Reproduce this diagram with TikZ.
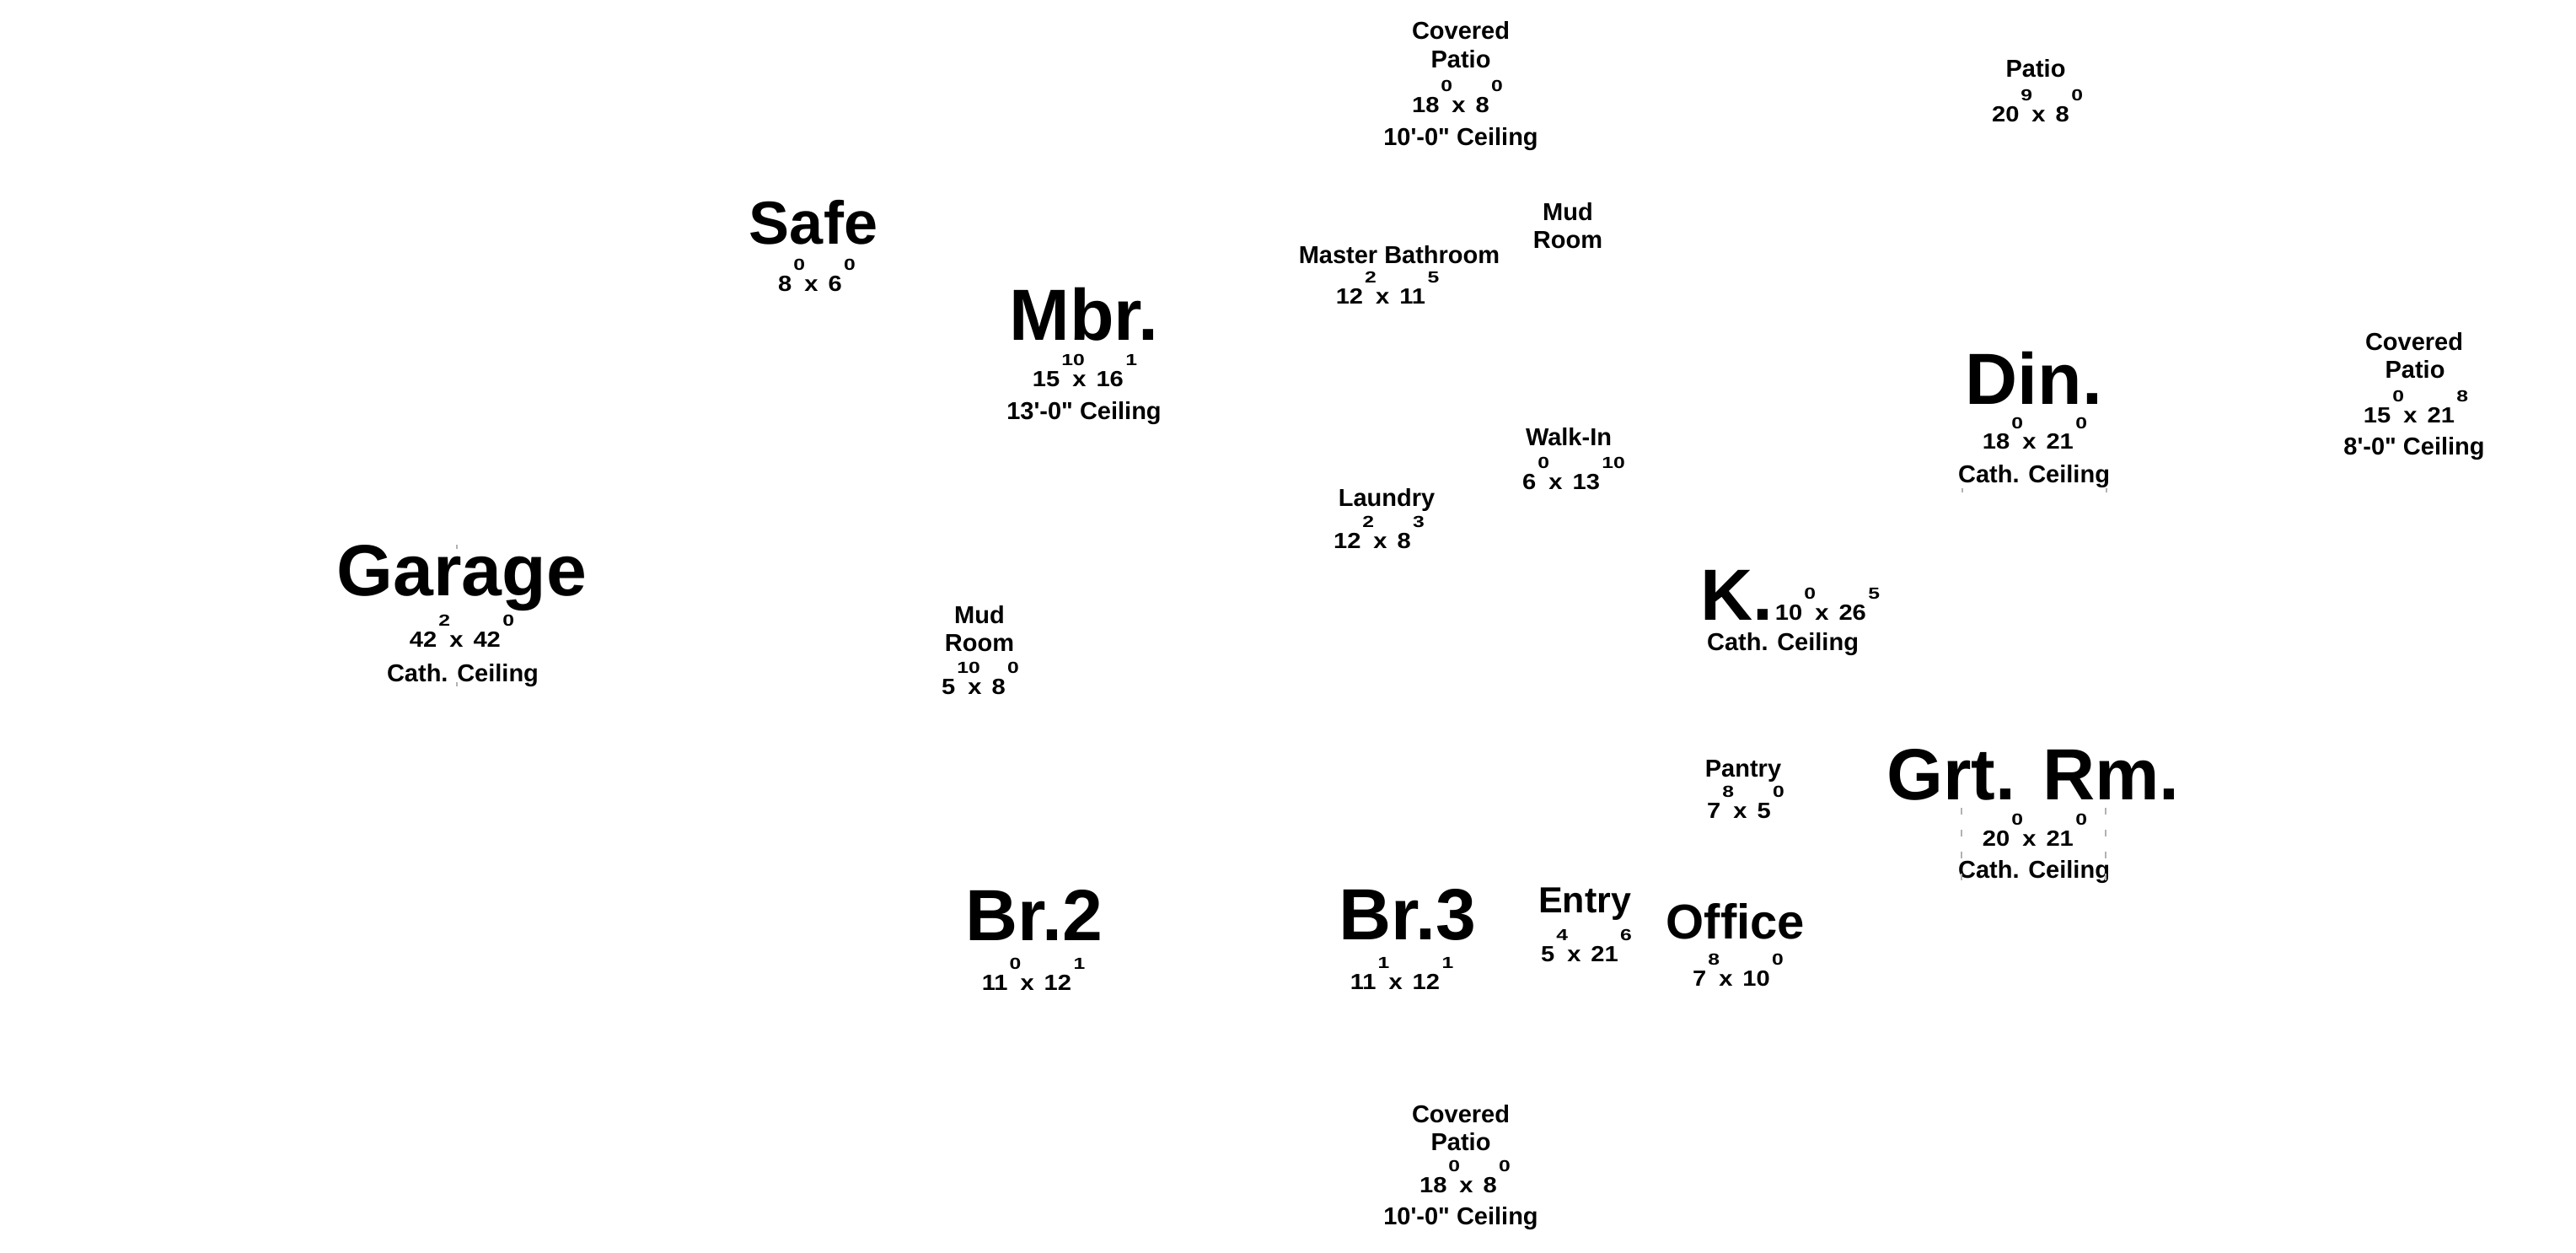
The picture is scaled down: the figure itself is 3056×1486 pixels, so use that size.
\documentclass[tikz,border=0pt]{standalone}
\usepackage{fontspec}
\setmainfont{Liberation Sans}
\newfontfamily\dimfont{Liberation Sans Bold}[FakeStretch=1.12]
\newfontfamily\supfont{Liberation Sans Bold}[FakeStretch=1.3]
\newcommand\upx[1]{\raisebox{12.5pt}{\supfont\fontsize{9.5}{9.5}\selectfont #1}}
\newcommand\dm[4]{#1\kern1pt\rlap{\upx{#2}}\kern6.5pt x\kern6pt #3\kern1.2pt\upx{#4}}
\newcommand\ceil[1]{#1\textquotesingle-0\textquotedbl{} Ceiling}
\begin{document}
\begin{tikzpicture}[x=0.5pt,y=-0.5pt,
  lbl/.style={inner sep=0pt, anchor=base, font=\bfseries\fontsize{14.5}{14.5}\selectfont},
  big/.style={inner sep=0pt, anchor=base, font=\bfseries\fontsize{43}{43}\selectfont},
  dim/.style={inner sep=0pt, anchor=base, font=\dimfont\fontsize{13}{13}\selectfont},
  guide/.style={draw=gray!60, line width=0.6pt, dash pattern=on 4pt off 9pt},
  tick/.style={draw=gray!60, line width=0.6pt}]
\fill[white] (0,0) rectangle (3056,1486);
\useasboundingbox (0,0) rectangle (3056,1486);
% top covered patio
\node[lbl] (cpTa) at (1733,47) {Covered};
\node[lbl] (cpTb) at (1733,81) {Patio};
\node[dim] (cpTc) at (1729,134) {\dm{18}{0}{8}{0}};
\node[lbl] (cpTd) at (1733,173) {\ceil{10}};
% patio top right
\node[lbl] (patA) at (2415,92) {Patio};
\node[dim] (patB) at (2417,145) {\dm{20}{9}{8}{0}};
% safe
\node[inner sep=0pt, anchor=base, font=\bfseries\fontsize{36}{36}\selectfont] (safeA) at (965,290) {Safe};
\node[dim] (safeB) at (969,346) {\dm{8}{0}{6}{0}};
% master bedroom
\node[big] (mbrA) at (1286,404) {Mbr.};
\node[dim] (mbrB) at (1287,459) {\dm{15}{10}{16}{1}};
\node[lbl] (mbrC) at (1286,498) {\ceil{13}};
% master bathroom
\node[lbl] (mbA) at (1660,313) {Master Bathroom};
\node[dim] (mbB) at (1646,361) {\dm{12}{2}{11}{5}};
% mud room right
\node[lbl] (mudRa) at (1860,262) {Mud};
\node[lbl] (mudRb) at (1860,295) {Room};
% walk-in
\node[lbl] (wiA) at (1861,529) {Walk-In};
\node[dim] (wiB) at (1867,581) {\dm{6}{0}{13}{10}};
% laundry
\node[lbl] (lauA) at (1645,600) {Laundry};
\node[dim] (lauB) at (1636,650) {\dm{12}{2}{8}{3}};
% dining
\node[big] (dinA) at (2413,480) {Din.};
\node[dim] (dinB) at (2414,533) {\dm{18}{0}{21}{0}};
\node[lbl] (dinC) at (2413,573) {Cath. Ceiling};
% covered patio right
\node[lbl] (cpRa) at (2864,416) {Covered};
\node[lbl] (cpRb) at (2865,449) {Patio};
\node[dim] (cpRc) at (2866,502) {\dm{15}{0}{21}{8}};
\node[lbl] (cpRd) at (2864,539) {\ceil{8}};
% kitchen
\node[big] (kA) at (2060,735) {K.};
\node[dim] (kB) at (2168,735) {\dm{10}{0}{26}{5}};
\node[lbl] (kC) at (2115,771) {Cath. Ceiling};
% garage
\node[big] (garA) at (548,706) {Garage};
\node[dim] (garB) at (548,767) {\dm{42}{2}{42}{0}};
\node[lbl] (garC) at (549,808) {Cath. Ceiling};
% mud room left
\node[lbl] (mudLa) at (1162,739) {Mud};
\node[lbl] (mudLb) at (1162,772) {Room};
\node[dim] (mudLc) at (1163,823) {\dm{5}{10}{8}{0}};
% pantry
\node[lbl] (panA) at (2068,921) {Pantry};
\node[dim] (panB) at (2071,970) {\dm{7}{8}{5}{0}};
% great room
\node[big] (grtA) at (2412,948) {Grt. Rm.};
\node[dim] (grtB) at (2414,1003) {\dm{20}{0}{21}{0}};
\node[lbl] (grtC) at (2413,1041) {Cath. Ceiling};
% bedrooms
\node[big] (br2A) at (1227,1115) {Br.2};
\node[dim] (br2B) at (1226,1174) {\dm{11}{0}{12}{1}};
\node[big] (br3A) at (1670,1114) {Br.3};
\node[dim] (br3B) at (1663,1173) {\dm{11}{1}{12}{1}};
% entry, office
\node[inner sep=0pt, anchor=base, font=\bfseries\fontsize{21.5}{21.5}\selectfont] (entA) at (1880,1082) {Entry};
\node[dim] (entB) at (1882,1140) {\dm{5}{4}{21}{6}};
\node[inner sep=0pt, anchor=base, font=\bfseries\fontsize{29}{29}\selectfont] (offA) at (2059,1113) {Office};
\node[dim] (offB) at (2062,1169) {\dm{7}{8}{10}{0}};
% bottom covered patio
\node[lbl] (cpBa) at (1733,1331) {Covered};
\node[lbl] (cpBb) at (1733,1364) {Patio};
\node[dim] (cpBc) at (1738,1414) {\dm{18}{0}{8}{0}};
\node[lbl] (cpBd) at (1733,1452) {\ceil{10}};
% faint guide lines
\coordinate (gL1) at (2327,958);
\coordinate (gL2) at (2327,1052);
\coordinate (gR1) at (2498,958);
\coordinate (gR2) at (2498,1052);
\draw[guide] (gL1) -- (gL2);
\draw[guide] (gR1) -- (gR2);
\coordinate (t1a) at (542,646); \coordinate (t1b) at (542,651);
\coordinate (t2a) at (542,809); \coordinate (t2b) at (542,814);
\coordinate (t3a) at (2328,579); \coordinate (t3b) at (2328,584);
\coordinate (t4a) at (2499,579); \coordinate (t4b) at (2499,584);
\draw[tick] (t1a) -- (t1b);
\draw[tick] (t2a) -- (t2b);
\draw[tick] (t3a) -- (t3b);
\draw[tick] (t4a) -- (t4b);
\end{tikzpicture}
\end{document}
